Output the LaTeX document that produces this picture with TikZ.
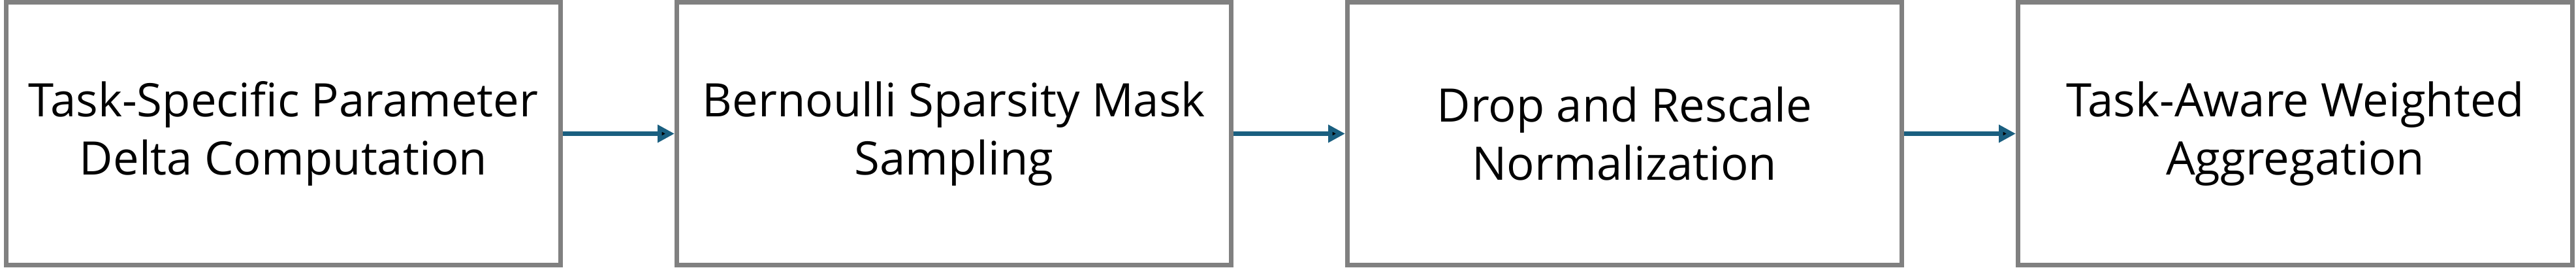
\documentclass[tikz,border=0pt]{standalone}
\usepackage{fontspec}
\setmainfont{Open Sans}
\usetikzlibrary{arrows.meta}
\definecolor{flowblue}{RGB}{26,95,128}
\definecolor{boxgray}{RGB}{128,128,128}

\begin{document}
\begin{tikzpicture}[>={Triangle[length=0.26cm,width=0.26cm]},
    stage/.style={shape=rectangle,draw=boxgray,line width=0.07cm,minimum width=8.49cm,minimum height=4.02cm,align=center,font=\fontsize{20.1}{25.3}\selectfont},
    flow/.style={->,draw=flowblue,line width=0.07cm}]
    \useasboundingbox (0,0) rectangle (39.45,4.09);
    \node[stage] (0) at (4.34,2.045) {Task-Specific Parameter\\Delta Computation};
    \node[stage] (1) at (14.61,2.045) {Bernoulli Sparsity Mask\\Sampling};
    \node[stage] (2) at (24.88,2.045) {Drop and Rescale\\Normalization};
    \node[stage] (3) at (35.15,2.045) {Task-Aware Weighted\\Aggregation};
    \path[flow](0) edge node {} (1);
    \path[flow](1) edge node {} (2);
    \path[flow](2) edge node {} (3);
\end{tikzpicture}
\end{document}
